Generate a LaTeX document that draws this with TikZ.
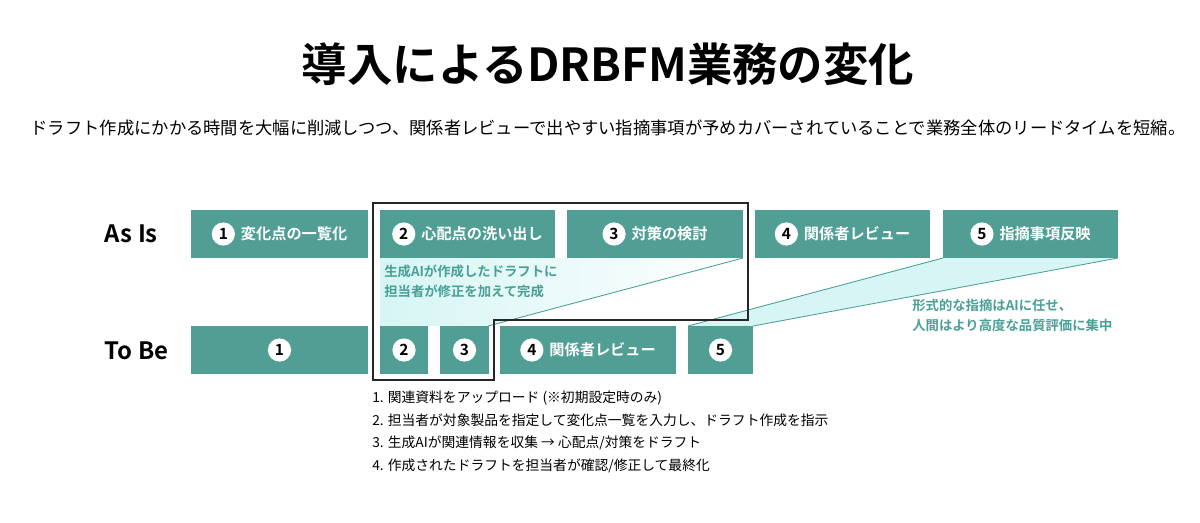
\documentclass[tikz,border=0pt]{standalone}
\usepackage{fontspec}
\setmainfont{Noto Sans CJK JP}[BoldFont={Noto Sans CJK JP Bold}]
\definecolor{teal1}{RGB}{80,158,148}
\definecolor{tealtext}{RGB}{72,160,150}
\definecolor{fan}{RGB}{214,245,244}
\newcommand{\numc}[1]{\tikz[baseline=(c.base)]\node[circle,fill=white,text=black,inner sep=0pt,minimum size=16.5pt,font=\bfseries\fontsize{11}{12}\selectfont] (c) {#1};}
\tikzset{
  box/.style={fill=teal1, text=white, font=\bfseries\fontsize{10.8}{12}\selectfont, inner sep=0pt, minimum height={48*0.025cm}},
  note/.style={text=tealtext, font=\bfseries\fontsize{9.5}{14}\selectfont, align=left, anchor=north west, inner sep=0pt},
  fanline/.style={draw=tealtext, line width=0.6pt}
}
\begin{document}
\begin{tikzpicture}[x=0.025cm, y=-0.025cm]
\useasboundingbox (0,0) rectangle (1200,522);

% Title and lead text
\node[font=\bfseries\fontsize{32.3}{36}\selectfont] (title) at (608,64) {導入によるDRBFM業務の変化};
\node[font=\fontsize{12.3}{14}\selectfont] (lead) at (608,128) {ドラフト作成にかかる時間を大幅に削減しつつ、関係者レビューで出やすい指摘事項が予めカバーされていることで業務全体のリードタイムを短縮。};

% Fans behind the boxes
\shade[left color=fan, right color=white] (380,258) -- (743,258) -- (488,326) -- (380,326) -- cycle;
\fill[fan] (943,258) -- (1118,258) -- (753,326) -- (688,326) -- cycle;
\draw[fanline] (743,258) -- (488,326);
\draw[fanline] (943,258) -- (688,326);
\draw[fanline] (1118,258) -- (753,326);

% Row labels
\node[font=\bfseries\fontsize{17}{20}\selectfont, anchor=west] (asis) at (100,234) {As Is};
\node[font=\bfseries\fontsize{17}{20}\selectfont, anchor=west] (tobe) at (100,351) {To Be};

% As Is steps
\node[box, minimum width={177*0.025cm}] (a1) at (279.5,234) {\numc{1}\, 変化点の一覧化};
\node[box, minimum width={175*0.025cm}] (a2) at (467.5,234) {\numc{2}\, 心配点の洗い出し};
\node[box, minimum width={176*0.025cm}] (a3) at (655,234) {\numc{3}\, 対策の検討};
\node[box, minimum width={175*0.025cm}] (a4) at (842.5,234) {\numc{4}\, 関係者レビュー};
\node[box, minimum width={175*0.025cm}] (a5) at (1030.5,234) {\numc{5}\, 指摘事項反映};

% To Be steps
\node[box, minimum width={177*0.025cm}] (b1) at (279.5,350) {\numc{1}};
\node[box, minimum width={48*0.025cm}] (b2) at (404,350) {\numc{2}};
\node[box, minimum width={49*0.025cm}] (b3) at (464.5,350) {\numc{3}};
\node[box, minimum width={176*0.025cm}] (b4) at (588,350) {\numc{4}\, 関係者レビュー};
\node[box, minimum width={65*0.025cm}] (b5) at (720.5,350) {\numc{5}};

% Outline around the AI part
\draw[line width=1.2pt, black!85] (373,203) -- (748,203) -- (748,320) -- (494,320) -- (494,380) -- (373,380) -- cycle;

% Notes
\node[note] (ainote) at (384,265) {生成AIが作成したドラフトに\\担当者が修正を加えて完成};
\node[note] (humannote) at (912,299) {形式的な指摘はAIに任せ、\\人間はより高度な品質評価に集中};

% Steps list
\node[anchor=north west, inner sep=0pt, align=left, font=\fontsize{9.8}{16}\selectfont] (steps) at (372,391)
  {1. 関連資料をアップロード (※初期設定時のみ)\\
   2. 担当者が対象製品を指定して変化点一覧を入力し、ドラフト作成を指示\\
   3. 生成AIが関連情報を収集 → 心配点/対策をドラフト\\
   4. 作成されたドラフトを担当者が確認/修正して最終化};
\end{tikzpicture}
\end{document}
